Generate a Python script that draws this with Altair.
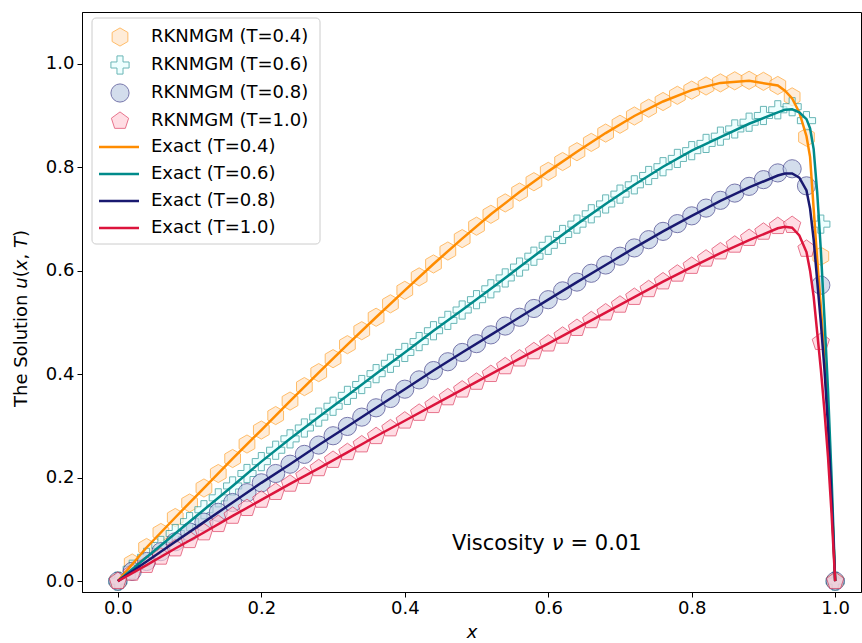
import altair as alt
import pandas as pd

# ---------------- data ----------------
x_num = [0.00, 0.02, 0.04, 0.06, 0.08, 0.10, 0.12, 0.14, 0.16, 0.18,
         0.20, 0.22, 0.24, 0.26, 0.28, 0.30, 0.32, 0.34, 0.36, 0.38,
         0.40, 0.42, 0.44, 0.46, 0.48, 0.50, 0.52, 0.54, 0.56, 0.58,
         0.60, 0.62, 0.64, 0.66, 0.68, 0.70, 0.72, 0.74, 0.76, 0.78,
         0.80, 0.82, 0.84, 0.86, 0.88, 0.90, 0.92, 0.94, 0.96, 0.98, 1.00]

num_T04 = [0.000, 0.035, 0.065, 0.094, 0.123, 0.151, 0.180, 0.208, 0.237, 0.265,
           0.292, 0.320, 0.348, 0.376, 0.403, 0.430, 0.457, 0.484, 0.510, 0.536,
           0.562, 0.588, 0.613, 0.638, 0.662, 0.686, 0.709, 0.731, 0.752, 0.772,
           0.792, 0.811, 0.830, 0.848, 0.866, 0.883, 0.899, 0.914, 0.927, 0.939,
           0.949, 0.957, 0.963, 0.967, 0.968, 0.966, 0.958, 0.936, 0.858, 0.628, 0.000]

num_T06 = [0.000, 0.023, 0.046, 0.069, 0.092, 0.115, 0.138, 0.161, 0.184, 0.208,
           0.231, 0.253, 0.275, 0.296, 0.317, 0.338, 0.359, 0.380, 0.401, 0.421,
           0.442, 0.463, 0.484, 0.504, 0.524, 0.544, 0.565, 0.586, 0.607, 0.628,
           0.649, 0.670, 0.690, 0.710, 0.729, 0.748, 0.766, 0.784, 0.801, 0.817,
           0.832, 0.846, 0.860, 0.874, 0.887, 0.900, 0.911, 0.917, 0.890, 0.690, 0.000]

num_T08 = [0.000, 0.019, 0.038, 0.057, 0.076, 0.095, 0.114, 0.133, 0.152, 0.171,
           0.190, 0.208, 0.226, 0.245, 0.263, 0.281, 0.299, 0.317, 0.335, 0.353,
           0.371, 0.389, 0.407, 0.424, 0.442, 0.459, 0.476, 0.493, 0.510, 0.527,
           0.544, 0.561, 0.578, 0.595, 0.611, 0.628, 0.644, 0.660, 0.676, 0.691,
           0.706, 0.721, 0.736, 0.750, 0.763, 0.776, 0.789, 0.797, 0.764, 0.572, 0.000]

num_T10 = [0.000, 0.016, 0.031, 0.047, 0.063, 0.079, 0.094, 0.110, 0.126, 0.141,
           0.157, 0.172, 0.188, 0.203, 0.218, 0.234, 0.249, 0.264, 0.280, 0.295,
           0.310, 0.325, 0.340, 0.355, 0.370, 0.385, 0.400, 0.415, 0.430, 0.444,
           0.459, 0.474, 0.489, 0.504, 0.519, 0.534, 0.549, 0.564, 0.579, 0.594,
           0.609, 0.623, 0.637, 0.650, 0.663, 0.675, 0.686, 0.688, 0.642, 0.462, 0.000]

x_exact = [0.00, 0.04, 0.08, 0.12, 0.16, 0.20, 0.24, 0.28, 0.32, 0.36,
           0.40, 0.44, 0.48, 0.52, 0.56, 0.60, 0.64, 0.68, 0.72, 0.76,
           0.80, 0.84, 0.88, 0.92, 0.93, 0.94, 0.95, 0.96, 0.965, 0.97,
           0.975, 0.98, 0.985, 0.99, 0.995, 1.00]

exact_T04 = [0.000, 0.065, 0.123, 0.180, 0.237, 0.292, 0.348, 0.403, 0.457, 0.510,
             0.562, 0.613, 0.662, 0.709, 0.752, 0.792, 0.830, 0.866, 0.899, 0.927,
             0.949, 0.963, 0.967, 0.958, 0.948, 0.933, 0.906, 0.860, 0.820, 0.720,
             0.620, 0.530, 0.430, 0.320, 0.170, 0.000]

exact_T06 = [0.000, 0.046, 0.092, 0.138, 0.184, 0.231, 0.275, 0.317, 0.359, 0.401,
             0.442, 0.484, 0.524, 0.565, 0.607, 0.649, 0.690, 0.729, 0.766, 0.801,
             0.832, 0.858, 0.884, 0.906, 0.911, 0.912, 0.906, 0.893, 0.875, 0.835,
             0.750, 0.640, 0.510, 0.370, 0.200, 0.000]

exact_T08 = [0.000, 0.038, 0.076, 0.114, 0.152, 0.190, 0.226, 0.263, 0.299, 0.335,
             0.371, 0.407, 0.442, 0.476, 0.510, 0.544, 0.578, 0.611, 0.644, 0.676,
             0.706, 0.735, 0.761, 0.784, 0.788, 0.788, 0.780, 0.755, 0.720, 0.660,
             0.580, 0.500, 0.410, 0.300, 0.160, 0.000]

exact_T10 = [0.000, 0.031, 0.063, 0.094, 0.126, 0.157, 0.188, 0.218, 0.249, 0.280,
             0.310, 0.340, 0.370, 0.400, 0.430, 0.459, 0.489, 0.519, 0.549, 0.579,
             0.607, 0.634, 0.659, 0.682, 0.685, 0.683, 0.668, 0.636, 0.600, 0.550,
             0.480, 0.410, 0.330, 0.240, 0.130, 0.000]

num_labels = ["RKNMGM (T=0.4)", "RKNMGM (T=0.6)", "RKNMGM (T=0.8)", "RKNMGM (T=1.0)"]
exact_labels = ["Exact (T=0.4)", "Exact (T=0.6)", "Exact (T=0.8)", "Exact (T=1.0)"]

# annotation "Viscosity ν = 0.01" (anchored at the ν)
note_x = [0.613]
note_u = [0.0714]
note_left = ["Viscosity"]
note_mid = ["\u03bd"]
note_right = ["= 0.01"]

# y-axis title "The Solution u(x, T)" in pieces (math letters italic)
ytitle_parts = ["The Solution", "u", "(", "x", ",", "T", ")"]
ytitle_italic = [False, True, False, True, False, True, False]

# ---------------- styles ----------------
HEX = "M0,-1L0.866,-0.5L0.866,0.5L0,1L-0.866,0.5L-0.866,-0.5Z"
PLUS = ("M-0.333,-1L0.333,-1L0.333,-0.333L1,-0.333L1,0.333L0.333,0.333"
        "L0.333,1L-0.333,1L-0.333,0.333L-1,0.333L-1,-0.333L-0.333,-0.333Z")
PENT = "M0,-1L0.951,-0.309L0.588,0.809L-0.588,0.809L-0.951,-0.309Z"
marker_shapes = [HEX, PLUS, "circle", PENT]
marker_fills = ["#ffe2c4", "#e6ffff", "#bccbe2", "#ffccd6"]
marker_strokes = ["#ff9a1a", "#1a9090", "#303080", "#dc2a50"]
line_colors = ["#ff8c00", "#008b8b", "#191970", "#dc143c"]
ytitle_dx = [0, 118.3, 129.7, 136.7, 147.4, 159.0, 170.0]

num_rows = []
for lab, ys in zip(num_labels, [num_T04, num_T06, num_T08, num_T10]):
    for xv, yv in zip(x_num, ys):
        num_rows.append({"x": xv, "u": yv, "series": lab})
num_df = pd.DataFrame(num_rows)

ex_rows = []
for lab, ys in zip(exact_labels, [exact_T04, exact_T06, exact_T08, exact_T10]):
    for xv, yv in zip(x_exact, ys):
        ex_rows.append({"x": xv, "u": yv, "label": lab})
ex_df = pd.DataFrame(ex_rows)

note_df = pd.DataFrame({"x": note_x, "u": note_u, "a": note_left,
                        "b": note_mid, "c": note_right})

xscale = alt.Scale(domain=[-0.05, 1.036], nice=False, zero=False)
yscale = alt.Scale(domain=[-0.021, 1.1], nice=False, zero=False)

xaxis = alt.Axis(values=[0.0, 0.2, 0.4, 0.6, 0.8, 1.0], format=".1f", grid=False,
                 labelPadding=2, titlePadding=6, titleFontStyle="italic")
yaxis = alt.Axis(values=[0.0, 0.2, 0.4, 0.6, 0.8, 1.0], format=".1f", grid=False,
                 labelPadding=3)

MSIZE = 330


def marker_legend():
    return alt.Legend(title=None, orient="none", legendX=28, legendY=15,
                      symbolSize=MSIZE, symbolStrokeWidth=1, symbolOpacity=0.65,
                      labelFontSize=18, labelOffset=21, rowPadding=4, padding=0,
                      labelColor="black")


frame = alt.Chart(alt.Data(values=[{"k": 1}])).mark_rect(
    fill="white", fillOpacity=0.8, stroke="#cccccc", strokeWidth=1, cornerRadius=4
).encode(x=alt.value(10), x2=alt.value(238), y=alt.value(6), y2=alt.value(232))

points = alt.Chart(num_df).mark_point(filled=True, size=MSIZE, strokeWidth=1, opacity=0.65).encode(
    x=alt.X("x:Q", scale=xscale, axis=xaxis, title="x"),
    y=alt.Y("u:Q", scale=yscale, axis=yaxis, title=None),
    shape=alt.Shape("series:N", scale=alt.Scale(domain=num_labels, range=marker_shapes),
                    legend=marker_legend()),
    fill=alt.Fill("series:N", scale=alt.Scale(domain=num_labels, range=marker_fills),
                  legend=marker_legend()),
    stroke=alt.Stroke("series:N", scale=alt.Scale(domain=num_labels, range=marker_strokes),
                      legend=marker_legend()),
)

lines = alt.Chart(ex_df).mark_line(strokeWidth=2.5).encode(
    x=alt.X("x:Q", scale=xscale),
    y=alt.Y("u:Q", scale=yscale),
    color=alt.Color("label:N", scale=alt.Scale(domain=exact_labels, range=line_colors),
                    legend=alt.Legend(title=None, orient="none", legendX=28, legendY=126,
                                      symbolType="M-4,0L4,0", symbolSize=100,
                                      symbolStrokeWidth=2.5, labelFontSize=18,
                                      labelOffset=23, rowPadding=9, padding=0,
                                      labelColor="black")),
)

note_base = alt.Chart(note_df).encode(x=alt.X("x:Q", scale=xscale), y=alt.Y("u:Q", scale=yscale))
note_a = note_base.mark_text(fontSize=21, align="right", baseline="middle", dx=-13,
                             color="black").encode(text="a:N")
note_b = note_base.mark_text(fontSize=21, align="center", baseline="middle", fontStyle="italic",
                             color="black").encode(text="b:N")
note_c = note_base.mark_text(fontSize=21, align="left", baseline="middle", dx=13,
                             color="black").encode(text="c:N")

ytitle_layers = []
for part, ital, off in zip(ytitle_parts, ytitle_italic, ytitle_dx):
    ytitle_layers.append(
        alt.Chart(alt.Data(values=[{"t": part}])).mark_text(
            fontSize=18, align="left", baseline="middle", angle=270, dx=off,
            fontStyle="italic" if ital else "normal", color="black"
        ).encode(x=alt.value(-60), y=alt.value(395), text="t:N")
    )

chart = alt.layer(points, lines, frame, note_a, note_b, note_c, *ytitle_layers).properties(
    width=779, height=580,
    autosize=alt.AutoSizeParams(type="none"),
    padding={"left": 82, "top": 12, "right": 1, "bottom": 51},
).configure(font="DejaVu Sans").configure_axis(
    labelFontSize=18, titleFontSize=18, titleFontWeight="normal",
    labelColor="black", titleColor="black", tickColor="black", domainColor="black",
    tickSize=5, domainWidth=1, tickWidth=1,
).configure_view(stroke="black", strokeWidth=1)

chart.save("out.html", embed_options={"renderer": "svg", "actions": False})
